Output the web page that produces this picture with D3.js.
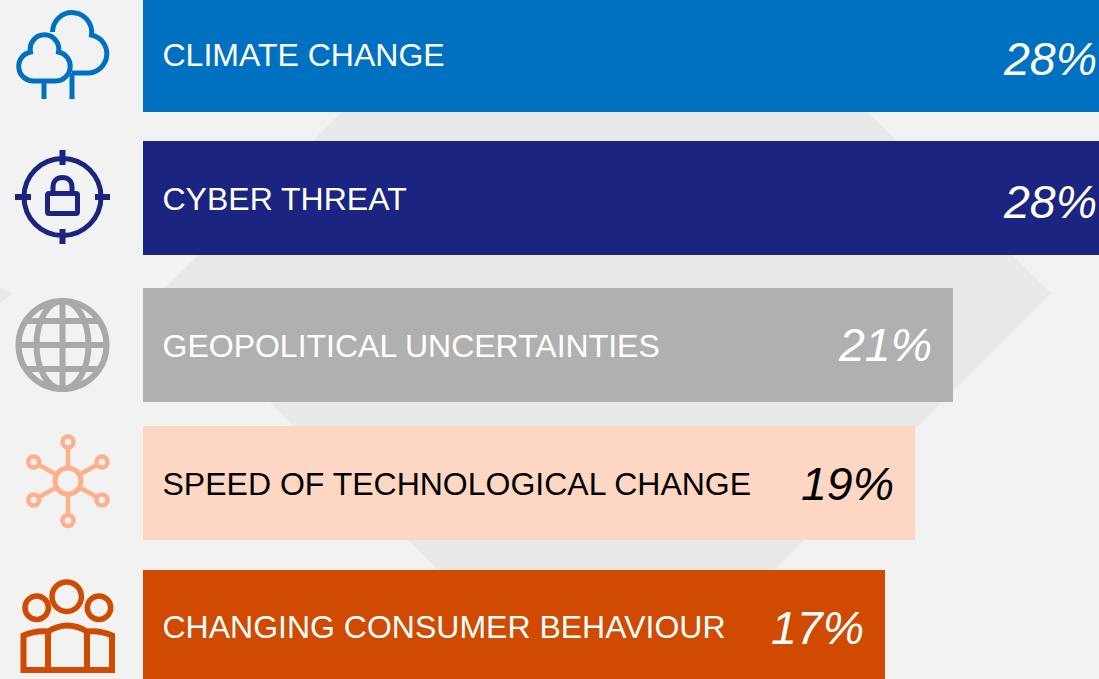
<!DOCTYPE html>
<html><head><meta charset="utf-8">
<script src="https://cdn.jsdelivr.net/npm/d3@7/dist/d3.min.js"></script>
<style>html,body{margin:0;padding:0;background:#f2f2f2;overflow:hidden}svg{display:block}text{font-family:"Liberation Sans",Arial,sans-serif}</style>
</head><body><svg id="c" width="1099" height="679"></svg>
<script>
const categories=["CLIMATE CHANGE","CYBER THREAT","GEOPOLITICAL UNCERTAINTIES","SPEED OF TECHNOLOGICAL CHANGE","CHANGING CONSUMER BEHAVIOUR"];
const values=[28,28,21,19,17];
const barColors=["#0071c1","#1b2581","#b0b0b0","#fed7c4","#d04a02"];
const iconColors=["#0071c1","#1b2581","#a9a9a9","#ffb08a","#d04a02"];
const textColors=["#fff","#fff","#fff","#000","#fff"];
const tops=[-2,141,288,426,570];
const labelBase=[66,210,357,495,638];
const pctBase=[75,218,361,500,644];
const svg=d3.select("#c");
// bar ends: axis is not zero-based
const x=d3.scaleLinear().domain([17,19,21,28]).range([885,915,953,1118]);
const left=143,barH=114;
// background
const bg=svg.append("g").attr("fill","#e9e9e9");
bg.append("path").attr("d","M342 112H868L1051 293L754 590H458L160 293Z");
bg.append("path").attr("d","M0 287L13 294L0 303Z");
const rows=svg.selectAll("g.r").data(categories).join("g").attr("class","r");
rows.append("rect").attr("x",left).attr("y",(d,i)=>tops[i]).attr("height",barH)
 .attr("width",(d,i)=>x(values[i])-left).attr("fill",(d,i)=>barColors[i]);
rows.append("text").attr("x",162.5).attr("y",(d,i)=>labelBase[i]).attr("font-size",32)
 .attr("fill",(d,i)=>textColors[i]).text(d=>d);
rows.append("text").attr("x",(d,i)=>x(values[i])-21).attr("text-anchor","end").attr("y",(d,i)=>pctBase[i])
 .attr("font-size",46.5).attr("font-style","italic").attr("fill",(d,i)=>textColors[i]).text((d,i)=>values[i]+"%");
// icons
function ic(i,sw){return svg.append("g").attr("fill","none").attr("stroke",iconColors[i]).attr("stroke-width",sw);}
let g=ic(0,5);
g.append("path").attr("d","M34 81A14.65 14.65 0 0 1 30.5 52A14.3 14.3 0 1 1 58.5 52A14.65 14.65 0 0 1 56 81Z");
g.append("path").attr("d","M52.5 32A19.6 19.6 0 1 1 91.5 35A19.2 19.2 0 0 1 88 73H72");
g.append("path").attr("d","M44 81V99M72 73V99");
g=ic(1,5);
g.append("circle").attr("cx",62.5).attr("cy",197).attr("r",38.5);
g.append("path").attr("stroke-width",6).attr("d","M62.5 150V165M62.5 229V244M15 197H31M95 197H110");
g.append("rect").attr("x",47.5).attr("y",193.5).attr("width",30).attr("height",20).attr("rx",1.5);
g.append("path").attr("d","M53 193V187C53 181 57 177.5 62.5 177.5C68 177.5 72 181 72 187V193");
g=ic(2,6);
g.append("circle").attr("cx",62.5).attr("cy",345).attr("r",44);
g.append("ellipse").attr("cx",62.5).attr("cy",345).attr("rx",26).attr("ry",44);
g.append("path").attr("d","M62.5 301V389M18 345H107M26 321H99M26 369H99");
g=ic(3,4.5);
const cx=68,cy=481;
const nodes=[[68,442],[33.7,462],[102,462],[33.7,500],[102,500],[68,520.5]];
nodes.forEach(n=>{
 const dx=n[0]-cx,dy=n[1]-cy,l=Math.hypot(dx,dy);
 g.append("line").attr("x1",cx+dx/l*14).attr("y1",cy+dy/l*14).attr("x2",n[0]-dx/l*6).attr("y2",n[1]-dy/l*6);
 g.append("circle").attr("cx",n[0]).attr("cy",n[1]).attr("r",5.5);
});
g.append("circle").attr("cx",cx).attr("cy",cy).attr("r",13).attr("stroke-width",5);
g=ic(4,5.5);
g.append("circle").attr("cx",36.7).attr("cy",607.7).attr("r",11.7);
g.append("circle").attr("cx",66.7).attr("cy",596.7).attr("r",14.7);
g.append("circle").attr("cx",99).attr("cy",607.7).attr("r",11.7);
g.append("path").attr("stroke-width",6).attr("d","M23.5 670V635.5Q36 630 48 631.5Q67 619.5 87 631.5Q100 630 112 635.5V670ZM48 631.5V670M87 631.5V670");
</script></body></html>
